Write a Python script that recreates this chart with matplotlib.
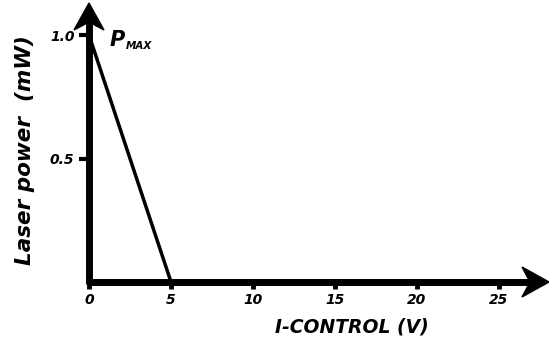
import matplotlib.pyplot as plt
from matplotlib.patches import Polygon
from matplotlib.transforms import ScaledTranslation

# data
volts = [0, 5]
power = [1.0, 0.0]
x_ticks = [0, 5, 10, 15, 20, 25]
y_ticks = [0.5, 1.0]
y_tick_labels = ["0.5", "1.0"]

plt.rcParams['font.family'] = ['DejaVu Sans']

fig = plt.figure(figsize=(5.49, 3.40), dpi=100)
ax = fig.add_axes([89 / 549, 58 / 340, 460 / 549, 279 / 340])
ax.set_xlim(0, 28.05)
ax.set_ylim(0, 1.13)
for s in ax.spines.values():
    s.set_visible(False)


def arrow_head(x, y, horizontal):
    # stealth style head, sizes in inches at dpi 100
    verts = [(0, 0), (-0.27, 0.15), (-0.19, 0), (-0.27, -0.15)]
    if not horizontal:
        verts = [(-b, a) for a, b in verts]
    tr = fig.dpi_scale_trans + ScaledTranslation(x, y, ax.transData)
    ax.add_patch(Polygon(verts, closed=True, color='black', transform=tr, clip_on=False))


# thick axes with arrow heads
ax.plot([-0.13, 27.0], [0, 0], color='black', lw=5, solid_capstyle='butt', clip_on=False)
ax.plot([0, 0], [-0.01, 1.08], color='black', lw=5, solid_capstyle='butt', clip_on=False)
arrow_head(28.05, 0, True)
arrow_head(0, 1.13, False)

ax.plot(volts, power, color='black', lw=2.5, solid_capstyle='butt', clip_on=False)

ax.set_xticks(x_ticks)
ax.set_xticklabels([str(t) for t in x_ticks])
ax.set_yticks(y_ticks)
ax.set_yticklabels(y_tick_labels)
ax.tick_params(axis='x', length=5, width=3.5, direction='out', pad=3, labelsize=10)
ax.tick_params(axis='y', length=7.5, width=3, direction='out', pad=3, labelsize=10)
for lab in ax.get_xticklabels() + ax.get_yticklabels():
    lab.set_fontweight('bold')
    lab.set_fontstyle('italic')

ax.set_xlabel("I-CONTROL (V)", fontsize=13.5, fontweight='bold', fontstyle='italic')
ax.xaxis.set_label_coords((352 - 89) / 460, -(327 - 282) / 279)
ax.xaxis.label.set_va('center')
ax.set_ylabel("Laser power  (mW)", fontsize=15.5, fontweight='bold', fontstyle='italic')
ax.yaxis.set_label_coords(-(89 - 25) / 460, (282 - 150) / 279)
ax.yaxis.label.set_va('center')

ax.text(1.25, 0.955, "P", fontsize=15, fontweight='bold', fontstyle='italic', ha='left', va='baseline')
ax.text(2.25, 0.945, "MAX", fontsize=7.5, fontweight='bold', fontstyle='italic', ha='left', va='baseline')

fig.savefig("out.png", dpi=100)
